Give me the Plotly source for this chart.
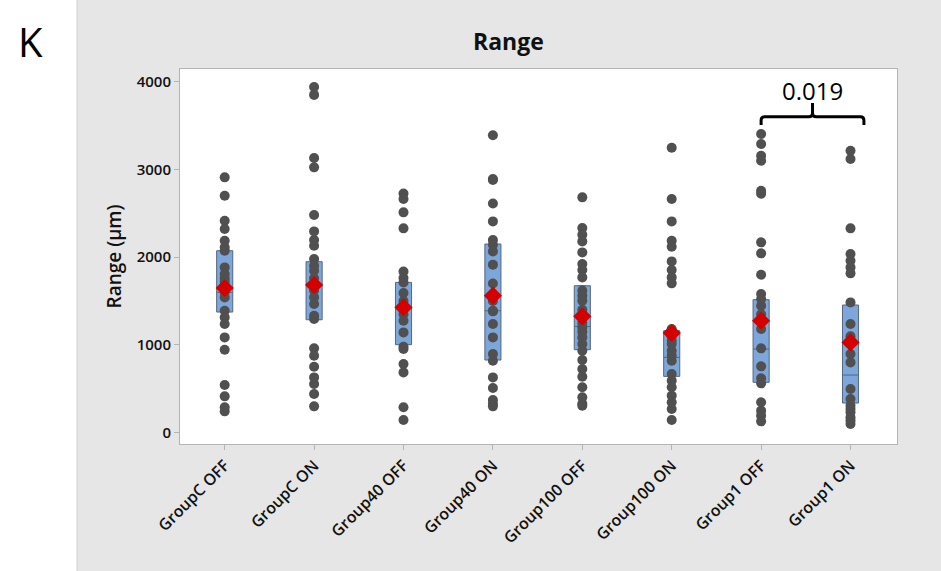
import plotly.graph_objects as go

# ---------------- data ----------------
groups = ["GroupC OFF", "GroupC ON", "Group40 OFF", "Group40 ON",
          "Group100 OFF", "Group100 ON", "Group1 OFF", "Group1 ON"]

values_c_off = [2910, 2701, 2416, 2321, 2188, 2112, 2074, 1884, 1809, 1760, 1720, 1680,
                1600, 1542, 1390, 1314, 1238, 1086, 946, 543, 414, 289, 243]
values_c_on = [3940, 3850, 3130, 3024, 2481, 2294, 2196, 2131, 1979, 1903, 1846, 1760,
               1620, 1542, 1466, 1333, 1295, 961, 877, 752, 630, 555, 441, 300]
values_40_off = [2727, 2663, 2511, 2329, 1838, 1763, 1713, 1592, 1500, 1430, 1350,
                 1276, 1143, 980, 953, 783, 687, 289, 145]
values_40_on = [3390, 2891, 2880, 2613, 2408, 2196, 2142, 2066, 1915, 1700, 1500,
                1390, 1383, 1238, 1086, 897, 820, 630, 509, 373, 330, 300]
values_100_off = [2682, 2333, 2256, 2180, 2055, 1922, 1854, 1770, 1618, 1560, 1504,
                  1400, 1326, 1250, 1200, 1150, 1086, 1011, 934, 828, 726, 638, 517,
                  403, 330, 308]
values_100_on = [3248, 2663, 2408, 2188, 2120, 1952, 1854, 1770, 1702, 1182, 1100,
                 1050, 1011, 934, 880, 820, 669, 593, 517, 422, 346, 270, 145]
values_1_off = [3404, 3290, 3157, 3100, 2758, 2724, 2169, 2044, 1800, 1580, 1523,
                1447, 1350, 1182, 961, 756, 619, 562, 346, 251, 194, 129]
values_1_on = [3214, 3119, 2329, 2036, 1960, 1884, 1816, 1485, 1238, 1100, 897, 801,
               498, 384, 308, 270, 232, 175, 140, 99]

all_values = [values_c_off, values_c_on, values_40_off, values_40_on,
              values_100_off, values_100_on, values_1_off, values_1_on]

means = [1649, 1683, 1428, 1561, 1326, 1136, 1276, 1029]
q1s = [1375, 1287, 1003, 828, 946, 642, 574, 338]
medians = [1600, 1700, 1430, 1390, 1211, 858, 953, 657]
q3s = [2074, 1949, 1713, 2150, 1675, 1162, 1516, 1455]

y_ticks = [0, 1000, 2000, 3000, 4000]
p_value = "0.019"
compare_pair = [6, 7]

# ---------------- styles ----------------
dot_color = "#505050"
box_fill = "#7da6da"
box_line = "#55667f"
mean_color = "#d40000"
panel_gray = "#e6e6e6"
border_gray = "#b4b4b4"
label_font = "Open Sans"

fig = go.Figure()

positions = list(range(len(groups)))

fig.add_trace(go.Box(
    x=positions, q1=q1s, median=medians, q3=q3s,
    lowerfence=q1s, upperfence=q3s,
    width=0.18, fillcolor=box_fill,
    line=dict(color=box_line, width=1),
    boxpoints=False, showlegend=False, hoverinfo="skip",
))

for i, vals in enumerate(all_values):
    fig.add_trace(go.Scatter(
        x=[i] * len(vals), y=vals, mode="markers",
        marker=dict(color=dot_color, size=10, line=dict(width=0)),
        showlegend=False,
    ))

fig.add_trace(go.Scatter(
    x=positions, y=means, mode="markers",
    marker=dict(symbol="diamond", color=mean_color, size=14, line=dict(width=0)),
    showlegend=False,
))

# bracket for comparison
bx0 = compare_pair[0] - 0.0
bx1 = compare_pair[1] + 0.15
bxc = (bx0 + bx1) / 2
y_end, y_bar, y_top = 3507, 3601, 3757
rx, ry = 0.04, 40
path = (f"M {bx0},{y_end} L {bx0},{y_bar-ry} Q {bx0},{y_bar} {bx0+rx},{y_bar} "
        f"L {bxc-rx},{y_bar} Q {bxc},{y_bar} {bxc},{y_bar+ry} L {bxc},{y_top} "
        f"M {bxc},{y_bar+ry} Q {bxc},{y_bar} {bxc+rx},{y_bar} "
        f"L {bx1-rx},{y_bar} Q {bx1},{y_bar} {bx1},{y_bar-ry} L {bx1},{y_end}")
fig.add_shape(type="path", path=path, xref="x", yref="y",
              line=dict(color="black", width=3))
fig.add_annotation(x=bxc, y=3905, xref="x", yref="y", text=p_value,
                   showarrow=False, xanchor="center", yanchor="middle",
                   font=dict(family=label_font, size=24, color="black"))

W, H = 941, 571
L, R, T, B = 180, 44, 69, 127
pw, ph = W - L - R, H - T - B


def px_x(p):
    return (p - L) / pw


def px_y(p):
    return (H - B - p) / ph


# white strip on the left (outside the gray graph panel)
fig.add_shape(type="rect", xref="paper", yref="paper",
              x0=px_x(-5), x1=px_x(77), y0=px_y(H + 5), y1=px_y(-5),
              fillcolor="white", line=dict(color="#d0d0d0", width=1), layer="below")

fig.add_annotation(x=px_x(30), y=px_y(41), xref="paper", yref="paper", text="K",
                   showarrow=False, xanchor="center", yanchor="middle",
                   font=dict(family=label_font, size=40, color="black"))
fig.add_annotation(x=px_x(508), y=px_y(41), xref="paper", yref="paper", text="Range",
                   showarrow=False, xanchor="center", yanchor="middle",
                   font=dict(family=label_font, size=23, color="#111111", weight=700))
fig.add_annotation(x=px_x(113), y=0.5, xref="paper", yref="paper", text="Range (µm)",
                   textangle=-90, showarrow=False, xanchor="center", yanchor="middle",
                   font=dict(family=label_font, size=19, color="#111111", weight=600))

fig.update_layout(
    width=W, height=H,
    margin=dict(l=L, r=R, t=T, b=B),
    paper_bgcolor=panel_gray, plot_bgcolor="white",
    showlegend=False,
    xaxis=dict(range=[-0.5, 7.52], tickvals=positions, ticktext=groups,
               tickangle=-45, ticks="outside", ticklen=5, tickcolor=border_gray,
               showgrid=False, zeroline=False, showline=True, mirror=True,
               linecolor=border_gray, linewidth=1,
               tickfont=dict(family=label_font, size=16, color="#111111", weight=600)),
    yaxis=dict(range=[-129, 4145], tickvals=y_ticks, ticks="outside", ticklen=5,
               tickcolor=border_gray, showgrid=False, zeroline=False,
               showline=True, mirror=True, linecolor=border_gray, linewidth=1,
               tickfont=dict(family=label_font, size=15, color="#111111", weight=600)),
)

fig.write_html("out.html", config={"displayModeBar": False},
               post_script="document.body.style.margin='0';document.body.style.overflow='hidden';")
